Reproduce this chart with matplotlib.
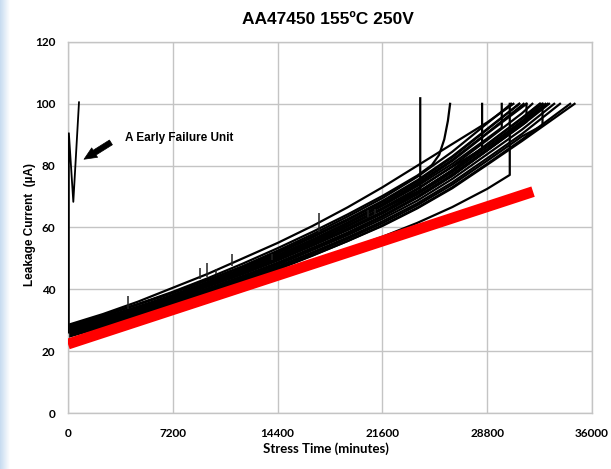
import matplotlib
matplotlib.use("Agg")
import matplotlib.pyplot as plt
from matplotlib.colors import LinearSegmentedColormap
import numpy as np

# ---------------- data ----------------
title = "AA47450 155ºC 250V"
xlabel = "Stress Time (minutes)"
ylabel = "Leakage Current  (µA)"
x_ticks = [0, 7200, 14400, 21600, 28800, 36000]
y_ticks = [0, 20, 40, 60, 80, 100, 120]

# common time grid (minutes)
T = [0, 2400, 4800, 7200, 9600, 12000, 14400, 16800, 19200, 21600, 24000, 26400, 28800, 31200]

# leakage current of each unit on the grid, then the tail up to failure (100 µA)
u01 = [28.5, 32.0, 36.0, 40.5, 45.0, 50.0, 55.0, 60.5, 66.5, 73.0, 80.0, 87.0, 94.0]
u01_tail_t, u01_tail_y = [30600], [100]
u02 = [28.0, 31.5, 35.2, 39.2, 43.6, 48.3, 53.3, 58.6, 64.2, 70.2, 76.8]
u02_tail_t, u02_tail_y = [25000, 25500, 25850, 26100, 26250], [80.2, 83.5, 88.5, 94.5, 100]
u03 = [27.0, 30.4, 34.0, 37.7, 41.7, 46.0, 50.5, 55.4, 60.5, 66.0, 71.6]
u03_tail_t, u03_tail_y = [24200, 24200], [72.0, 101.8]
u04 = [24.6, 27.8, 31.0, 34.3, 37.8, 41.4, 45.2, 49.0, 52.9, 57.0, 61.5, 66.6, 72.5]
u04_tail_t, u04_tail_y = [30350, 30350], [77.0, 100]
u05 = [26.8, 30.2, 33.8, 37.5, 41.5, 45.8, 50.4, 55.4, 60.7, 66.3, 72.6, 79.6]
u05_tail_t, u05_tail_y = [28450, 28450], [85.5, 100]
u06 = [27.3, 30.7, 34.2, 37.9, 42.0, 46.4, 51.0, 56.0, 61.3, 67.0, 73.4, 80.6, 88.8]
u06_tail_t, u06_tail_y = [29800, 29800], [92.3, 100]
u07 = [26.3, 29.7, 33.1, 36.5, 40.3, 44.3, 48.6, 53.4, 58.3, 63.7, 69.8, 76.8, 85.0, 93.2]
u07_tail_t, u07_tail_y = [31500, 31500], [94.2, 100]
u08 = [26.0, 29.2, 32.4, 35.6, 39.2, 43.0, 47.1, 51.6, 56.3, 61.4, 67.2, 73.9, 81.6, 89.5]
u08_tail_t, u08_tail_y = [32600, 32600], [93.0, 100]
u09 = [27.8, 31.4, 35.1, 38.8, 43.0, 47.5, 52.5, 57.8, 63.5, 69.5, 76.4, 84.5, 93.7]
u09_tail_t, u09_tail_y = [30450], [100]
u10 = [27.0, 30.7, 34.4, 38.2, 42.4, 46.8, 51.6, 56.8, 62.3, 68.2, 74.9, 82.7, 91.7]
u10_tail_t, u10_tail_y = [31000], [100]
u11 = [26.8, 30.5, 34.2, 37.9, 41.9, 46.3, 51.0, 56.1, 61.5, 67.3, 73.9, 81.5, 90.4]
u11_tail_t, u11_tail_y = [31500], [100]
u12 = [25.8, 29.6, 33.4, 37.1, 41.2, 45.5, 50.1, 55.1, 60.3, 65.9, 72.3, 79.8, 88.3, 97.0]
u12_tail_t, u12_tail_y = [31900], [100]
u13 = [26.5, 30.0, 33.5, 37.0, 40.9, 45.0, 49.5, 54.4, 59.5, 65.0, 71.3, 78.6, 87.0, 95.5]
u13_tail_t, u13_tail_y = [32400], [100]
u14 = [27.6, 30.9, 34.3, 37.7, 41.5, 45.5, 49.9, 54.7, 59.7, 65.1, 71.3, 78.5, 86.8, 95.3]
u14_tail_t, u14_tail_y = [32450], [100]
u15 = [25.5, 29.0, 32.6, 36.1, 40.0, 44.1, 48.5, 53.3, 58.2, 63.6, 69.7, 76.7, 84.9, 93.1]
u15_tail_t, u15_tail_y = [33050], [100]
u16 = [26.2, 29.5, 32.8, 36.2, 39.9, 43.8, 48.0, 52.7, 57.5, 62.8, 68.7, 75.7, 83.7, 91.7]
u16_tail_t, u16_tail_y = [33400], [100]
u17 = [25.3, 28.6, 32.0, 35.5, 39.2, 43.1, 47.4, 52.0, 56.8, 62.0, 67.8, 74.6, 82.4, 90.3]
u17_tail_t, u17_tail_y = [33800], [100]
u18 = [25.9, 29.0, 32.2, 35.3, 38.8, 42.5, 46.6, 51.0, 55.6, 60.5, 66.2, 72.7, 80.3, 88.0]
u18_tail_t, u18_tail_y = [34800], [100]
u19 = [25.0, 28.3, 31.6, 34.9, 38.5, 42.3, 46.4, 50.9, 55.6, 60.7, 66.4, 73.0, 80.6, 88.5]
u19_tail_t, u19_tail_y = [34500], [100]
u20 = [28.0, 31.6, 35.2, 38.9, 43.0, 47.3, 52.0, 57.2, 62.7, 68.6, 75.3, 83.0, 91.9]
u20_tail_t, u20_tail_y = [31000], [100]
u21 = [27.0, 30.3, 33.7, 37.1, 40.9, 44.9, 49.3, 54.1, 59.1, 64.5, 70.7, 77.9, 86.1, 94.5]
u21_tail_t, u21_tail_y = [32600], [100]
u22 = [24.8, 28.2, 31.8, 35.5, 39.4, 43.5, 48.0, 52.9, 58.0, 63.5, 69.7, 76.8, 85.0, 93.5]
u22_tail_t, u22_tail_y = [32950], [100]
u23 = [26.0, 29.8, 33.6, 37.4, 41.6, 46.0, 50.8, 56.0, 61.6, 67.6, 74.3, 81.9, 90.6]
u23_tail_t, u23_tail_y = [31300], [100]
u24 = [25.4, 28.9, 32.4, 36.0, 39.8, 43.9, 48.3, 53.1, 58.2, 63.7, 70.0, 77.2, 85.4, 94.0]
u24_tail_t, u24_tail_y = [32800], [100]

units = [
    (u01, u01_tail_t, u01_tail_y), (u02, u02_tail_t, u02_tail_y),
    (u03, u03_tail_t, u03_tail_y), (u04, u04_tail_t, u04_tail_y),
    (u05, u05_tail_t, u05_tail_y), (u06, u06_tail_t, u06_tail_y),
    (u07, u07_tail_t, u07_tail_y), (u08, u08_tail_t, u08_tail_y),
    (u09, u09_tail_t, u09_tail_y), (u10, u10_tail_t, u10_tail_y),
    (u11, u11_tail_t, u11_tail_y), (u12, u12_tail_t, u12_tail_y),
    (u13, u13_tail_t, u13_tail_y), (u14, u14_tail_t, u14_tail_y),
    (u15, u15_tail_t, u15_tail_y), (u16, u16_tail_t, u16_tail_y),
    (u17, u17_tail_t, u17_tail_y), (u18, u18_tail_t, u18_tail_y),
    (u19, u19_tail_t, u19_tail_y), (u20, u20_tail_t, u20_tail_y),
    (u21, u21_tail_t, u21_tail_y), (u22, u22_tail_t, u22_tail_y),
    (u23, u23_tail_t, u23_tail_y), (u24, u24_tail_t, u24_tail_y),
]

# early failure unit
early_t = [60, 60, 365, 755]
early_y = [26.0, 90.5, 68.3, 100.5]

# short measurement glitches (spikes)
spike_t = [4150, 9100, 9530, 10150, 11300, 14000, 17250, 20600, 21100]
spike_lo = [33.5, 43.5, 44.0, 45.0, 47.5, 49.5, 58.5, 63.5, 64.5]
spike_hi = [37.8, 47.0, 48.5, 46.5, 51.3, 51.5, 64.6, 65.5, 66.0]

# red lower-bound trend line
red_t = [0, 31950]
red_y = [22.3, 71.6]

annot_text = "A Early Failure Unit"
annot_xy = (940, 81.6)
annot_tail = (3110, 88.0)
annot_text_xy = (3900, 88.8)

# ---------------- drawing ----------------
W, H = 611, 469
fig = plt.figure(figsize=(W / 100, H / 100), dpi=100)
fig.patch.set_facecolor("white")

# light blue slide edge on the left
edge = fig.add_axes([0, 0, 10 / W, 1])
grad = np.linspace(1, 0, 50).reshape(1, -1)
cmap = LinearSegmentedColormap.from_list("edge", ["#ffffff", "#c6dbf0"])
edge.imshow(grad, aspect="auto", cmap=cmap, extent=[0, 1, 0, 1])
edge.axis("off")

ax = fig.add_axes([68 / W, 1 - 413 / H, (592 - 68) / W, (413 - 42) / H])
ax.set_xlim(0, 36000)
ax.set_ylim(0, 120)
ax.set_xticks(x_ticks)
ax.set_yticks(y_ticks)
gridc = "#c4c4c4"
ax.grid(True, color=gridc, linewidth=1.0)
ax.set_axisbelow(True)
for s in ax.spines.values():
    s.set_color(gridc)
    s.set_linewidth(1.0)
ax.tick_params(length=0, pad=9)

tick_font = dict(family=["Lato", "DejaVu Sans"], weight="bold", size=8.5)
ax.set_xticklabels([str(v) for v in x_ticks], **tick_font)
ax.set_yticklabels([str(v) for v in y_ticks], **tick_font)
ax.tick_params(axis="x", pad=11)

for ys, tt, ty in units:
    xs = T[:len(ys)] + tt
    yy = ys + ty
    ax.plot(xs, yy, color="black", lw=1.6, solid_joinstyle="round")

ax.vlines(spike_t, spike_lo, spike_hi, color="#222222", lw=1.1)

ax.plot(early_t, early_y, color="black", lw=1.3, zorder=5)

ax.plot(red_t, red_y, color="#ff0000", lw=7.8, solid_capstyle="butt", zorder=4)

ax.annotate("", xy=annot_xy, xytext=annot_tail,
            arrowprops=dict(arrowstyle="simple,head_length=0.9,head_width=0.8,tail_width=0.4",
                            color="black", lw=0.5))
ax.text(annot_text_xy[0], annot_text_xy[1], annot_text, ha="left", va="center",
        family=["Liberation Sans", "DejaVu Sans"], weight="bold", size=8.5)

fig.text(327.5 / W, 1 - 19.5 / H, title, ha="center", va="center",
         family=["Liberation Sans", "DejaVu Sans"], weight="bold", size=12.5)
fig.text(326 / W, 1 - 449 / H, xlabel, ha="center", va="center",
         family=["Lato", "DejaVu Sans"], weight="bold", size=9.5)
fig.text(30 / W, 1 - 225 / H, ylabel, ha="center", va="center", rotation=90,
         family=["Liberation Sans", "DejaVu Sans"], weight="bold", size=8.5)

fig.savefig("out.png", dpi=100)
